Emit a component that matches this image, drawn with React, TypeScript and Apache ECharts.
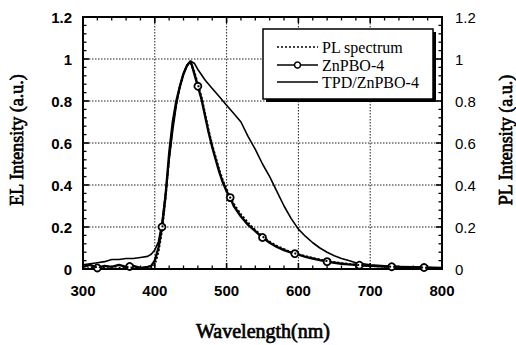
import React, { useEffect, useRef } from "react";
import * as echarts from "echarts";

// PL spectrum (dotted)
const plWl = [300, 320, 340, 360, 380, 395, 400, 405, 410, 415, 420, 425, 430, 435, 440, 445, 450, 455, 460, 465, 470, 475, 480, 485, 490, 495, 500, 505, 510, 520, 530, 540, 550, 560, 570, 580, 590, 600, 620, 640, 660, 680, 700, 720, 740, 760, 780, 800];
const plVal = [0.0, 0.01, 0.0, 0.01, 0.0, 0.005, 0.02, 0.08, 0.18, 0.34, 0.53, 0.69, 0.79, 0.87, 0.93, 0.97, 0.98, 0.94, 0.88, 0.82, 0.74, 0.66, 0.59, 0.53, 0.47, 0.42, 0.38, 0.34, 0.31, 0.26, 0.22, 0.185, 0.155, 0.13, 0.11, 0.095, 0.08, 0.07, 0.052, 0.038, 0.028, 0.02, 0.015, 0.012, 0.01, 0.008, 0.006, 0.004];

// ZnPBO-4 EL (line with circles)
const znWl = [300, 310, 320, 330, 340, 350, 360, 365, 370, 380, 390, 395, 400, 405, 410, 415, 420, 425, 430, 435, 440, 445, 450, 455, 460, 465, 470, 475, 480, 485, 490, 495, 500, 505, 510, 520, 530, 540, 550, 560, 570, 580, 590, 595, 600, 610, 620, 630, 640, 650, 660, 670, 680, 685, 690, 700, 720, 730, 740, 760, 775, 780, 800];
const znVal = [0.01, 0.02, 0.005, 0.015, 0.01, 0.02, 0.01, 0.012, 0.015, 0.005, 0.01, 0.015, 0.04, 0.1, 0.2, 0.35, 0.55, 0.7, 0.8, 0.87, 0.93, 0.97, 0.99, 0.93, 0.87, 0.81, 0.73, 0.65, 0.58, 0.52, 0.46, 0.41, 0.37, 0.34, 0.3, 0.25, 0.21, 0.18, 0.15, 0.125, 0.105, 0.09, 0.078, 0.073, 0.068, 0.058, 0.05, 0.042, 0.035, 0.03, 0.025, 0.022, 0.02, 0.018, 0.017, 0.015, 0.012, 0.011, 0.01, 0.008, 0.007, 0.006, 0.005];
const znMarkers = [320, 365, 410, 460, 505, 550, 595, 640, 685, 730, 775];

// TPD/ZnPBO-4 EL (thin line)
const tpdWl = [300, 310, 320, 330, 340, 350, 360, 370, 380, 390, 395, 400, 405, 410, 415, 420, 425, 430, 435, 440, 445, 450, 455, 460, 470, 480, 490, 500, 510, 520, 530, 540, 550, 560, 570, 580, 590, 600, 610, 620, 630, 640, 650, 660, 670, 680, 690, 700, 720, 740, 760, 780, 800];
const tpdVal = [0.02, 0.025, 0.03, 0.035, 0.045, 0.045, 0.05, 0.05, 0.055, 0.06, 0.07, 0.09, 0.13, 0.22, 0.36, 0.52, 0.66, 0.78, 0.87, 0.93, 0.97, 0.99, 0.98, 0.95, 0.9, 0.86, 0.82, 0.78, 0.74, 0.7, 0.63, 0.57, 0.5, 0.44, 0.37, 0.3, 0.24, 0.19, 0.155, 0.125, 0.1, 0.08, 0.063, 0.05, 0.04, 0.03, 0.025, 0.02, 0.015, 0.012, 0.01, 0.008, 0.006];

const legendNames = ["PL spectrum", "ZnPBO-4", "TPD/ZnPBO-4"];
const axisTitles = ["Wavelength(nm)", "EL Intensity (a.u.)", "PL Intensity (a.u.)"];

const xRange = [300, 800];
const xMajor = 100;
const xMinorPerMajor = 5;
const yRange = [0, 1.2];
const yMajor = 0.2;
const yMinorPerMajor = 5;

const zip = (a: number[], b: number[]) => a.map((x, i) => [x, b[i]]);

export default function App() {
  const ref = useRef<HTMLDivElement>(null);
  useEffect(() => {
    document.body.style.margin = "0";
    const chart = echarts.init(ref.current!, null, { renderer: "svg" });
    const markerSet = new Set(znMarkers);
    const serif = "Liberation Serif";
    const sans = "Liberation Sans";

    // frame, inside ticks (major + minor on all four sides) and dotted grid, placed through the grid's own scales
    const renderFrame = (params: any, api: any) => {
      const cs = params.coordSys;
      const L = cs.x, T = cs.y, R = cs.x + cs.width, B = cs.y + cs.height;
      const kids: any[] = [];
      const add = (x1: number, y1: number, x2: number, y2: number, w: number, dotted = false) => {
        const style: any = { stroke: dotted ? "#222" : "#000", lineWidth: w };
        if (dotted) style.lineDash = [1.5, 1.5];
        kids.push({ type: "line", shape: { x1, y1, x2, y2 }, style });
      };
      const nx = Math.round((xRange[1] - xRange[0]) / xMajor) * xMinorPerMajor;
      for (let i = 0; i <= nx; i++) {
        const v = xRange[0] + (i * xMajor) / xMinorPerMajor;
        const p = api.coord([v, yRange[0]])[0];
        const major = i % xMinorPerMajor === 0;
        if (major && i > 0 && i < nx) add(p, T, p, B, 1, true);
        const len = major ? 6 : 3.5;
        const w = major ? 1.6 : 1.3;
        add(p, B, p, B - len, w);
        add(p, T, p, T + len, w);
      }
      const ny = Math.round((yRange[1] - yRange[0]) / yMajor) * yMinorPerMajor;
      for (let i = 0; i <= ny; i++) {
        const v = yRange[0] + (i * yMajor) / yMinorPerMajor;
        const p = api.coord([xRange[0], v])[1];
        const major = i % yMinorPerMajor === 0;
        if (major && i > 0 && i < ny) add(L, p, R, p, 1, true);
        const len = major ? 6 : 3.5;
        const w = major ? 1.6 : 1.3;
        add(L, p, L + len, p, w);
        add(R, p, R - len, p, w);
      }
      kids.push({ type: "rect", shape: { x: L, y: T, width: R - L, height: B - T }, style: { fill: "none", stroke: "#000", lineWidth: 2 } });
      return { type: "group", children: kids };
    };

    const titleStyle = (text: string, size: number) => ({
      text, fontFamily: serif, fontSize: size, fill: "#000", stroke: "#000", lineWidth: 0.7,
      align: "center", verticalAlign: "middle",
    });

    const legendY = [47, 65, 82];
    const graphic: any[] = [
      { type: "rect", z: 100, shape: { x: 266, y: 32, width: 170, height: 70 }, style: { fill: "#000" } },
      { type: "rect", z: 101, shape: { x: 263, y: 29, width: 170, height: 70 }, style: { fill: "#fff", stroke: "#000", lineWidth: 1.5 } },
      { type: "line", z: 102, shape: { x1: 277, y1: legendY[0], x2: 318, y2: legendY[0] }, style: { stroke: "#000", lineWidth: 1.5, lineDash: [2, 2] } },
      { type: "line", z: 102, shape: { x1: 277, y1: legendY[1], x2: 318, y2: legendY[1] }, style: { stroke: "#000", lineWidth: 1.5 } },
      { type: "circle", z: 103, shape: { cx: 297.5, cy: legendY[1], r: 3 }, style: { fill: "#fff", stroke: "#000", lineWidth: 1.5 } },
      { type: "line", z: 102, shape: { x1: 277, y1: legendY[2], x2: 318, y2: legendY[2] }, style: { stroke: "#000", lineWidth: 1.5 } },
      ...legendNames.map((n, i) => ({
        type: "text",
        z: 103,
        x: 322,
        y: legendY[i],
        style: { text: n, fontFamily: serif, fontSize: 16, lineHeight: 16, fill: "#000", verticalAlign: "middle", align: "left" },
      })),
      { type: "text", z: 50, x: 263, y: 331, style: titleStyle(axisTitles[0], 20) },
      { type: "text", z: 50, x: 17, y: 140, rotation: Math.PI / 2, style: titleStyle(axisTitles[1], 18) },
      { type: "text", z: 50, x: 506, y: 140, rotation: Math.PI / 2, style: titleStyle(axisTitles[2], 18) },
    ];

    const off = { show: false };

    chart.setOption({
      animation: false,
      backgroundColor: "#fff",
      grid: { left: 83, right: 74, top: 17, bottom: 76 },
      xAxis: [
        {
          type: "value", min: xRange[0], max: xRange[1], interval: xMajor, position: "bottom",
          axisLine: off, axisTick: off, splitLine: off,
          axisLabel: { color: "#000", fontFamily: sans, fontWeight: "bold", fontSize: 15, margin: 14 },
        },
      ],
      yAxis: [
        {
          type: "value", min: yRange[0], max: yRange[1], interval: yMajor, position: "left",
          axisLine: off, axisTick: off, splitLine: off,
          axisLabel: { color: "#000", fontFamily: sans, fontWeight: "bold", fontSize: 15, margin: 11 },
        },
        {
          type: "value", min: yRange[0], max: yRange[1], interval: yMajor, position: "right",
          axisLine: off, axisTick: off, splitLine: off,
          axisLabel: { color: "#000", fontFamily: sans, fontSize: 15, margin: 13 },
        },
      ],
      series: [
        {
          type: "custom", xAxisIndex: 0, yAxisIndex: 0, z: 1, silent: true,
          renderItem: renderFrame, data: [[xRange[0], yRange[0]]],
        },
        {
          name: legendNames[2], type: "line", xAxisIndex: 0, yAxisIndex: 0, z: 2,
          data: zip(tpdWl, tpdVal), showSymbol: false, symbol: "none",
          lineStyle: { color: "#000", width: 1.6 },
        },
        {
          name: legendNames[1], type: "line", xAxisIndex: 0, yAxisIndex: 0, z: 3,
          data: zip(znWl, znVal), showSymbol: true, showAllSymbol: true,
          symbol: (v: number[]) => (markerSet.has(v[0]) ? "circle" : "none"),
          symbolSize: 7,
          itemStyle: { color: "#fff", borderColor: "#000", borderWidth: 1.8 },
          lineStyle: { color: "#000", width: 2.4 },
        },
        {
          name: legendNames[0], type: "line", xAxisIndex: 0, yAxisIndex: 1, z: 4,
          data: zip(plWl, plVal), showSymbol: false, symbol: "none",
          lineStyle: { color: "#000", width: 2, type: [2, 2] },
        },
      ],
      graphic,
    });
    return () => chart.dispose();
  }, []);
  return <div ref={ref} style={{ width: 516, height: 345 }} />;
}
